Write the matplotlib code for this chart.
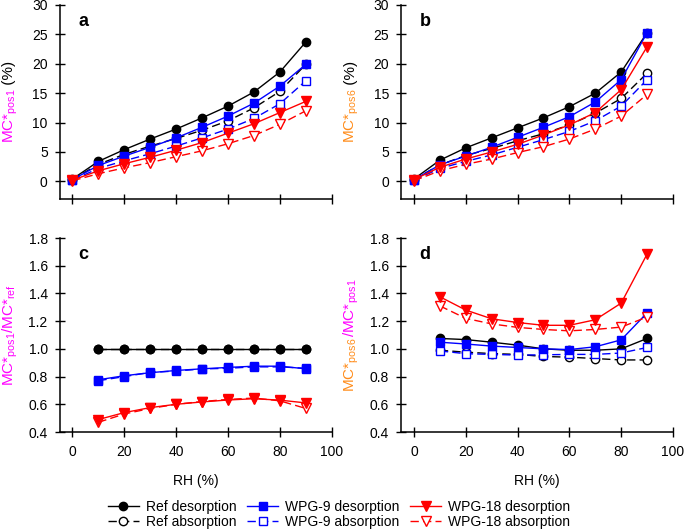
import matplotlib
matplotlib.use('Agg')
import matplotlib.pyplot as plt

plt.rcParams['font.family'] = ['Liberation Sans', 'DejaVu Sans']
plt.rcParams['mathtext.default'] = 'regular'

# ---------------- data ----------------
rh = [0, 10, 20, 30, 40, 50, 60, 70, 80, 90]
rh_ratio = [10, 20, 30, 40, 50, 60, 70, 80, 90]

a_ref_des = [0.4, 3.4, 5.4, 7.2, 8.9, 10.8, 12.8, 15.2, 18.6, 23.7]
a_ref_abs = [0.3, 2.9, 4.6, 6.0, 7.3, 8.7, 10.3, 12.5, 15.3, 19.9]
a_w9_des = [0.3, 2.7, 4.3, 5.8, 7.4, 9.2, 11.1, 13.3, 16.2, 19.9]
a_w9_abs = [0.2, 2.2, 3.5, 4.7, 6.0, 7.4, 8.9, 10.7, 13.2, 17.1]
a_w18_des = [0.2, 1.8, 3.0, 4.1, 5.3, 6.6, 8.2, 9.8, 11.7, 13.6]
a_w18_abs = [0.1, 1.3, 2.3, 3.2, 4.2, 5.2, 6.4, 7.8, 9.7, 12.0]

b_ref_des = [0.4, 3.6, 5.7, 7.4, 9.1, 10.8, 12.7, 15.0, 18.6, 25.3]
b_ref_abs = [0.3, 2.8, 4.4, 5.6, 6.9, 8.1, 9.6, 11.6, 14.1, 18.4]
b_w9_des = [0.3, 2.8, 4.3, 5.8, 7.5, 9.2, 11.0, 13.5, 17.3, 25.3]
b_w9_abs = [0.2, 2.2, 3.4, 4.5, 5.8, 7.1, 8.5, 10.3, 12.8, 17.3]
b_w18_des = [0.3, 2.4, 3.8, 5.0, 6.3, 7.9, 9.6, 11.7, 15.6, 22.9]
b_w18_abs = [0.1, 1.8, 2.9, 3.8, 4.9, 5.9, 7.2, 8.9, 11.1, 14.8]

c_ref_des = [1.0, 1.0, 1.0, 1.0, 1.0, 1.0, 1.0, 1.0, 1.0]
c_ref_abs = [1.0, 1.0, 1.0, 1.0, 1.0, 1.0, 1.0, 1.0, 1.0]
c_w9_des = [0.777, 0.806, 0.828, 0.844, 0.856, 0.866, 0.875, 0.875, 0.856]
c_w9_abs = [0.770, 0.800, 0.830, 0.840, 0.855, 0.860, 0.870, 0.870, 0.860]
c_w18_des = [0.49, 0.54, 0.576, 0.60, 0.617, 0.631, 0.64, 0.63, 0.61]
c_w18_abs = [0.47, 0.53, 0.57, 0.60, 0.62, 0.635, 0.645, 0.625, 0.57]

d_ref_des = [1.075, 1.067, 1.048, 1.027, 1.0, 0.99, 0.99, 1.0, 1.075]
d_ref_abs = [0.99, 0.976, 0.966, 0.96, 0.945, 0.94, 0.93, 0.92, 0.92]
d_w9_des = [1.048, 1.035, 1.02, 1.01, 1.0, 0.995, 1.015, 1.065, 1.26]
d_w9_abs = [0.985, 0.965, 0.96, 0.955, 0.957, 0.96, 0.96, 0.97, 1.01]
d_w18_des = [1.376, 1.28, 1.217, 1.19, 1.17, 1.17, 1.21, 1.33, 1.684]
d_w18_abs = [1.31, 1.22, 1.18, 1.155, 1.14, 1.13, 1.14, 1.157, 1.23]

series_labels = ['Ref desorption', 'Ref absorption', 'WPG-9 desorption',
                 'WPG-9 absorption', 'WPG-18 desorption', 'WPG-18 absorption']

MAGENTA = '#FF00FF'
ORANGE = '#FF8C1A'

DASH = (0, (6, 3))
styles = [
    dict(color='black', marker='o', ms=6.0, mfc='black', ls='-'),
    dict(color='black', marker='o', ms=6.0, mfc='white', ls=DASH),
    dict(color='#0000FF', marker='s', ms=5.5, mfc='#0000FF', ls='-'),
    dict(color='#0000FF', marker='s', ms=5.5, mfc='white', ls=DASH),
    dict(color='#FF0000', marker='v', ms=6.5, mfc='#FF0000', ls='-'),
    dict(color='#FF0000', marker='v', ms=6.5, mfc='white', ls=DASH),
]
# absorption drawn first, desorption on top
draw_order = [1, 0, 3, 2, 5, 4]

W, H = 685, 531
fig = plt.figure(figsize=(W / 100, H / 100), dpi=100)


def px_axes(left, top, right, bottom):
    return fig.add_axes([left / W, 1 - bottom / H, (right - left) / W, (bottom - top) / H])


ax_a = px_axes(59.5, 5, 331.7, 199)
ax_b = px_axes(401, 5, 673, 199)
ax_c = px_axes(59.5, 238, 331.7, 432)
ax_d = px_axes(401, 238, 673, 432)

panels = [
    (ax_a, rh, [a_ref_des, a_ref_abs, a_w9_des, a_w9_abs, a_w18_des, a_w18_abs], 'a'),
    (ax_b, rh, [b_ref_des, b_ref_abs, b_w9_des, b_w9_abs, b_w18_des, b_w18_abs], 'b'),
    (ax_c, rh_ratio, [c_ref_des, c_ref_abs, c_w9_des, c_w9_abs, c_w18_des, c_w18_abs], 'c'),
    (ax_d, rh_ratio, [d_ref_des, d_ref_abs, d_w9_des, d_w9_abs, d_w18_des, d_w18_abs], 'd'),
]

handles = None
for ax, x, ys, letter in panels:
    hs = [None] * 6
    for i in draw_order:
        st = styles[i]
        h, = ax.plot(x, ys[i], color=st['color'], marker=st['marker'], ms=st['ms'],
                     mfc=st['mfc'], mec=st['color'], mew=1.0, ls=st['ls'], lw=1.0,
                     label=series_labels[i])
        hs[i] = h
    handles = hs
    ax.spines['top'].set_visible(False)
    ax.spines['right'].set_visible(False)
    for s in ('left', 'bottom'):
        ax.spines[s].set_linewidth(1.1)
    ax.set_xlim(-5, 100)
    ax.set_xticks([0, 20, 40, 60, 80, 100])
    ax.tick_params(direction='inout', length=7, width=1.0, labelsize=10, pad=5)
    ax.tick_params(axis='x', pad=6)
    ax.text(24 / 272, 0.893, letter, transform=ax.transAxes, ha='center',
            va='baseline', fontsize=13, fontweight='bold')

for ax in (ax_a, ax_b):
    ax.set_ylim(-3, 30)
    ax.set_yticks([0, 5, 10, 15, 20, 25, 30])
    ax.tick_params(axis='x', labelbottom=False)

ratio_ticks = [0.4, 0.6, 0.8, 1.0, 1.2, 1.4, 1.6, 1.8]
for ax in (ax_c, ax_d):
    ax.set_ylim(0.4, 1.8)
    ax.set_yticks(ratio_ticks)
    ax.set_yticklabels(['%.1f' % v for v in ratio_ticks])
    ax.set_xlabel('RH (%)', fontsize=10, labelpad=11)

# ---------------- multi-coloured y labels ----------------
LABEL_FAMILY = ['Liberation Sans Narrow', 'Liberation Sans', 'DejaVu Sans']


def colour_ylabel(ax, pieces, offset_px=46, fontsize=11):
    texts = []
    for s, c in pieces:
        t = fig.text(0, 0, s, color=c, rotation=90, rotation_mode='anchor',
                     ha='left', va='baseline', fontsize=fontsize, family=LABEL_FAMILY)
        texts.append(t)
    fig.canvas.draw()
    r = fig.canvas.get_renderer()
    lengths = [t.get_window_extent(r).height for t in texts]
    bb = ax.get_window_extent(r)
    x = bb.x0 - offset_px
    y = (bb.y0 + bb.y1) / 2 - sum(lengths) / 2
    for t, L in zip(texts, lengths):
        t.set_position((x / W, y / H))
        y += L


colour_ylabel(ax_a, [(r'MC*$_{pos1}$', MAGENTA), (' (%)', 'black')])
colour_ylabel(ax_b, [(r'MC*$_{pos6}$', ORANGE), (' (%)', 'black')])
colour_ylabel(ax_c, [(r'MC*$_{pos1}$/MC*$_{ref}$', MAGENTA)])
colour_ylabel(ax_d, [(r'MC*$_{pos6}$', ORANGE), (r'/MC*$_{pos1}$', MAGENTA)])

fig.legend(handles, series_labels, ncol=3, loc='center', bbox_to_anchor=(0.495, 0.031),
           frameon=False, fontsize=10, handlelength=2.2, handletextpad=0.5,
           columnspacing=0.8, labelspacing=0.05, borderpad=0.1)

fig.savefig('out.png', dpi=100)
